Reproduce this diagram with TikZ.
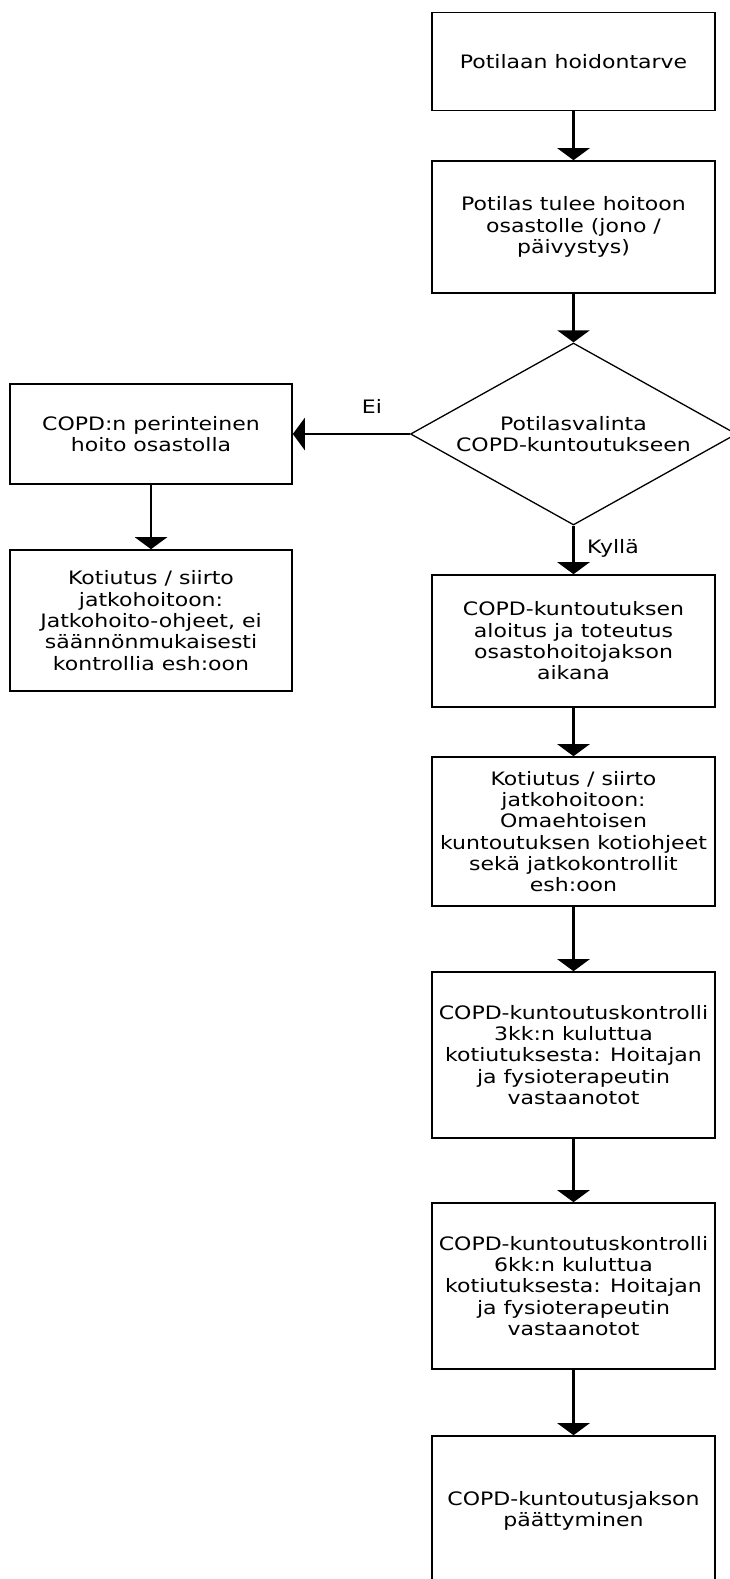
\documentclass[tikz,border=0pt]{standalone}
\usepackage{fontspec}
\setmainfont{DejaVu Sans}[FakeStretch=1.19]
\usetikzlibrary{arrows.meta,shapes.geometric}
\begin{document}
\begin{tikzpicture}[x=1pt,y=-1pt,
  every node/.style={font=\fontsize{18.5}{21.3}\selectfont, align=center},
  box/.style={draw, line width=1.6pt, minimum width=283pt, inner sep=0pt},
  conn/.style={line width=2.6pt, -{Triangle[width=32pt,length=12pt]}},
  lbl/.style={inner sep=0pt}]
\clip (0,0) rectangle (730,1579);
\fill[white] (0,0) rectangle (730,1579);
% right column
\node[box, minimum height=98pt] (b1) at (573.5,61.5) {Potilaan hoidontarve};
\node[box, minimum height=132pt] (b2) at (573.5,227) {Potilas tulee hoitoon\\osastolle (jono /\\päivystys)};
\node[draw, diamond, aspect=1.79, minimum width=326pt, minimum height=182pt, inner sep=0pt, line width=1.3pt] (d) at (573.5,434) {Potilasvalinta\\COPD-kuntoutukseen};
\node[box, minimum height=132pt] (b3) at (573.5,641) {COPD-kuntoutuksen\\aloitus ja toteutus\\osastohoitojakson\\aikana};
\node[box, minimum height=149pt] (b4) at (573.5,831.5) {Kotiutus / siirto\\jatkohoitoon:\\Omaehtoisen\\kuntoutuksen kotiohjeet\\sekä jatkokontrollit\\esh:oon};
\node[box, minimum height=166pt] (b5) at (573.5,1055) {COPD-kuntoutuskontrolli\\3kk:n kuluttua\\kotiutuksesta: Hoitajan\\ja fysioterapeutin\\vastaanotot};
\node[box, minimum height=166pt] (b6) at (573.5,1286) {COPD-kuntoutuskontrolli\\6kk:n kuluttua\\kotiutuksesta: Hoitajan\\ja fysioterapeutin\\vastaanotot};
\node[box, minimum height=150pt] (b7) at (573.5,1511) {COPD-kuntoutusjakson\\päättyminen};
% left column
\node[box, minimum width=282pt, minimum height=100pt] (l1) at (151,434) {COPD:n perinteinen\\hoito osastolla};
\node[box, minimum width=282pt, minimum height=141pt] (l2) at (151,620.5) {Kotiutus / siirto\\jatkohoitoon:\\Jatkohoito-ohjeet, ei\\säännönmukaisesti\\kontrollia esh:oon};
% connectors
\draw[conn] (b1.south) -- (b2.north);
\draw[conn] (b2.south) -- (d.north);
\draw[conn] (d.west) -- (l1.east);
\draw[conn] (l1.south) -- (l2.north);
\draw[conn] (d.south) -- (b3.north);
\draw[conn] (b3.south) -- (b4.north);
\draw[conn] (b4.south) -- (b5.north);
\draw[conn] (b5.south) -- (b6.north);
\draw[conn] (b6.south) -- (b7.north);
% labels
\node[lbl] (ei) at (372,406) {Ei};
\node[lbl] (kylla) at (613,548) {Kyllä};
\end{tikzpicture}
\end{document}
